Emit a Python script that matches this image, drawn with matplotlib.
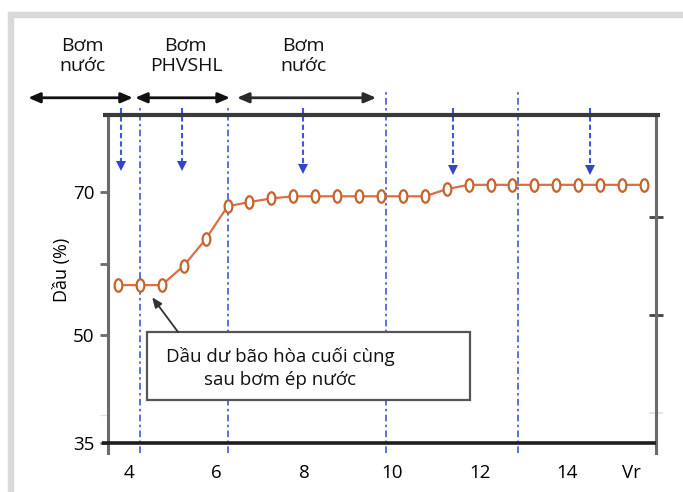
import matplotlib
matplotlib.use("Agg")
import matplotlib.pyplot as plt
from matplotlib.path import Path
from matplotlib.transforms import Affine2D
from matplotlib.patches import Rectangle
import matplotlib.ticker as mticker

plt.rcParams['font.family'] = ['Open Sans', 'DejaVu Sans']

# ---- data -------------------------------------------------------------
vr = [3.75, 4.25, 4.75, 5.25, 5.75, 6.25, 6.75, 7.25, 7.75, 8.25, 8.75,
      9.25, 9.75, 10.25, 10.75, 11.25, 11.75, 12.25, 12.75, 13.25, 13.75,
      14.25, 14.75, 15.25, 15.75]
oil = [57.0, 57.0, 57.0, 59.7, 63.4, 68.0, 68.6, 69.1, 69.4, 69.4, 69.4,
       69.4, 69.4, 69.4, 69.4, 70.4, 71.0, 71.0, 71.0, 71.0, 71.0,
       71.0, 71.0, 71.0, 71.0]

x_ticks = [4, 6, 8, 10, 12, 14, 15.47]
x_labels = ['4', '6', '8', '10', '12', '14', 'Vr']
y_ticks = [35, 50, 60, 70]
y_labels = ['35', '50', '', '70']

stage_bounds = [4.25, 6.27, 9.87, 12.87]      # vertical dash-dot lines
stage_tops = [1.024, 1.024, 1.068, 1.068]     # their upper ends (axes fraction)
sample_x = [3.83, 5.20, 7.97, 11.39, 14.53]   # downward sampling arrows
sample_tip = [73.1, 73.1, 72.7, 72.5, 72.5]

phases = ['Bơm\nnước', 'Bơm\nPHVSHL', 'Bơm\nnước']
phase_x = [2.95, 5.30, 7.99]
phase_spans = [(1.70, 4.09), (4.14, 6.305), (6.465, 9.64)]
phase_colors = ['#111111', '#111111', '#2a2a2a']

note_text = 'Dầu dư bão hòa cuối cùng\nsau bơm ép nước'

# ---- figure -----------------------------------------------------------
fig = plt.figure(figsize=(6.83, 4.92), dpi=100)
fig.patch.set_facecolor('white')

# light gray frame on top and left
fig.patches.append(Rectangle((8 / 683, 1 - 17 / 492), 1.0, 5 / 492,
                             transform=fig.transFigure, color='#d9d9d9', zorder=0))
fig.patches.append(Rectangle((8 / 683, 0), 5 / 683, 1 - 12 / 492,
                             transform=fig.transFigure, color='#d9d9d9', zorder=0))

ax = fig.add_axes([108.3 / 683, 1 - 452.7 / 492, 547.4 / 683, 337.7 / 492])
ax.set_xlim(3.529, 16.018)
ax.set_ylim(33.6, 80.75)

for s in ['top', 'bottom']:
    ax.spines[s].set_visible(False)
ax.spines['left'].set_color('#6a6a6a')
ax.spines['left'].set_linewidth(2.2)
ax.spines['right'].set_color('#6a6a6a')
ax.spines['right'].set_linewidth(2.2)

# thick top and base lines running past the side spines
ax.plot([3.40, 16.12], [80.75, 80.75], color='#3a3a3a', lw=3, clip_on=False,
        solid_capstyle='butt', zorder=5)
ax.plot([3.385, 16.02], [35, 35], color='#1e1e1e', lw=2.6, clip_on=False,
        solid_capstyle='butt', zorder=5)

# stage boundaries
blue = '#4257d6'
for xb, top in zip(stage_bounds, stage_tops):
    ax.plot([xb, xb], [0, top], transform=ax.get_xaxis_transform(), color=blue,
            lw=1.2, ls=(0, (4, 2, 1.5, 2)), clip_on=False, zorder=2)

# downward sampling arrows
for xs, tip in zip(sample_x, sample_tip):
    ax.plot([xs, xs], [80.75 + 1.0, tip + 0.6], color=blue, lw=1.5,
            ls=(0, (2.5, 1.5)), clip_on=False, zorder=3)
    ax.plot([xs], [tip + 0.55], marker='v', color='#3346c8', markersize=7,
            markeredgewidth=0, zorder=3)

# oil recovery curve with oval markers
oval = Path.unit_circle().transformed(Affine2D().scale(0.62, 1.0))
ax.plot(vr, oil, color='#de6d45', lw=1.6, marker=oval, markersize=9,
        markerfacecolor='white', markeredgecolor='#c4652e', markeredgewidth=1.6,
        zorder=6)

# phase labels and double arrows above the plot
for label, xc in zip(phases, phase_x):
    ax.text(xc, 1.175, label, transform=ax.get_xaxis_transform(), ha='center',
            va='center', fontsize=14, linespacing=1.15, color='#111111')
for (x0, x1), col in zip(phase_spans, phase_colors):
    ax.annotate('', xy=(x1, 1.051), xytext=(x0, 1.051),
                xycoords=ax.get_xaxis_transform(),
                textcoords=ax.get_xaxis_transform(),
                arrowprops=dict(arrowstyle='<|-|>,head_length=0.7,head_width=0.3',
                                color=col, lw=2, shrinkA=0, shrinkB=0),
                annotation_clip=False)

# annotation box for residual oil
ax.add_patch(Rectangle((4.41, 40.95), 11.78 - 4.41, 50.45 - 40.95,
                       facecolor='white', edgecolor='#555555', lw=1.6, zorder=7))
ax.text(7.45, 45.45, note_text, ha='center', va='center', fontsize=13.5,
        linespacing=1.35, color='#111111', zorder=8)
ax.annotate('', xy=(4.53, 55.3), xytext=(5.12, 50.45),
            arrowprops=dict(arrowstyle='-|>,head_length=0.6,head_width=0.25',
                            color='#333333', lw=1.3, shrinkA=0, shrinkB=0),
            zorder=8)

# axes ticks
ax.set_xticks(x_ticks)
ax.set_xticklabels(x_labels)
ax.tick_params(axis='x', length=0, pad=8, labelsize=13.5)
ax.set_yticks(y_ticks)
ax.set_yticklabels(y_labels)
ax.yaxis.set_minor_locator(mticker.FixedLocator([38.9]))
ax.tick_params(axis='y', which='major', direction='out', length=6, width=2,
               color='#6a6a6a', labelsize=13.5, pad=4)
ax.tick_params(axis='y', which='minor', direction='out', length=6, width=1,
               color='#e2e2e2')

right = ax.secondary_yaxis('right')
right.set_yticks([52.8, 66.5])
right.set_yticks([39.2], minor=True)
right.set_yticklabels([])
right.spines['right'].set_visible(False)
right.tick_params(which='major', direction='inout', length=10, width=2,
                  color='#444444')
right.tick_params(which='minor', direction='inout', length=10, width=1.2,
                  color='#e2e2e2')

ax.set_ylabel('Dầu (%)', fontsize=13)
ax.yaxis.set_label_coords(-0.068, 0.541)

fig.savefig('out.png', dpi=100)
